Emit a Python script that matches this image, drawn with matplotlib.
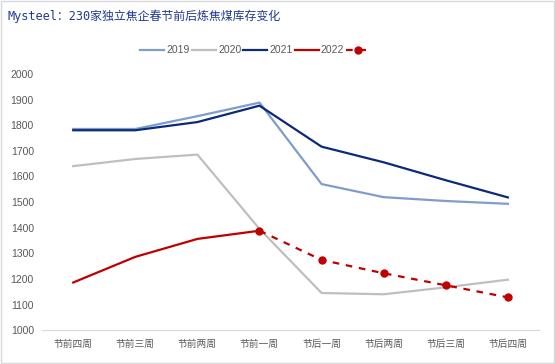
import matplotlib.pyplot as plt
import numpy as np

plt.rcParams['font.family'] = ['Liberation Sans', 'Noto Sans CJK SC', 'DejaVu Sans']

weeks = ['节前四周', '节前三周', '节前两周', '节前一周', '节后一周', '节后两周', '节后三周', '节后四周']
y2019 = [1785, 1785, 1835, 1888, 1570, 1519, 1504, 1493]
y2020 = [1640, 1668, 1685, 1395, 1145, 1140, 1167, 1197]
y2021 = [1780, 1780, 1812, 1876, 1716, 1655, 1585, 1518]
y2022 = [1186, 1286, 1356, 1388]
y2022_fc = [1388, 1274, 1222, 1175, 1128]

x = np.arange(len(weeks))

fig = plt.figure(figsize=(5.55, 3.64), dpi=100)
ax = fig.add_axes([0.076, 0.093, 0.895, 0.704])

l1, = ax.plot(x, y2019, color='#7f9dcb', lw=1.6)
l2, = ax.plot(x, y2020, color='#bfbfbf', lw=1.6)
l3, = ax.plot(x, y2021, color='#0b2a7a', lw=1.6)
l4, = ax.plot(x[:4], y2022, color='#c00000', lw=1.6)
l5, = ax.plot(x[3:], y2022_fc, color='#c00000', lw=1.6, ls=(0, (3, 3)),
              marker='o', ms=5)

ax.set_xlim(-0.5, len(weeks) - 0.5)
ax.set_ylim(1000, 2000)
ax.set_yticks(np.arange(1000, 2001, 100))
ax.set_xticks(x)
ax.set_xticklabels(weeks, fontsize=7, family=['Noto Sans CJK SC'])
ax.tick_params(axis='y', length=0, labelsize=7.5, colors='#595959', pad=6)
ax.tick_params(axis='x', length=0, colors='#595959', pad=6)
for s in ['top', 'right', 'left']:
    ax.spines[s].set_visible(False)
ax.spines['bottom'].set_color('#d9d9d9')

fig.text(0.014, 0.955, 'Mysteel：230家独立焦企春节前后炼焦煤库存变化',
         color='#1f3a93', fontsize=8.6, va='center', ha='left',
         family=['DejaVu Sans Mono', 'Noto Sans CJK SC'])

leg = fig.legend([l1, l2, l3, l4, l5], ['2019', '2020', '2021', '2022', ''],
                 loc='center', bbox_to_anchor=(0.462, 0.862), ncol=5,
                 frameon=False, fontsize=7.5, handlelength=2.3, handletextpad=0.2,
                 columnspacing=0.2)
for t in leg.get_texts():
    t.set_color('#595959')

fig.patches.append(plt.Rectangle((0.002, 0.003), 0.996, 0.994, transform=fig.transFigure,
                                 fill=False, edgecolor='#d9d9d9', lw=1))

fig.savefig('out.png', dpi=100)
